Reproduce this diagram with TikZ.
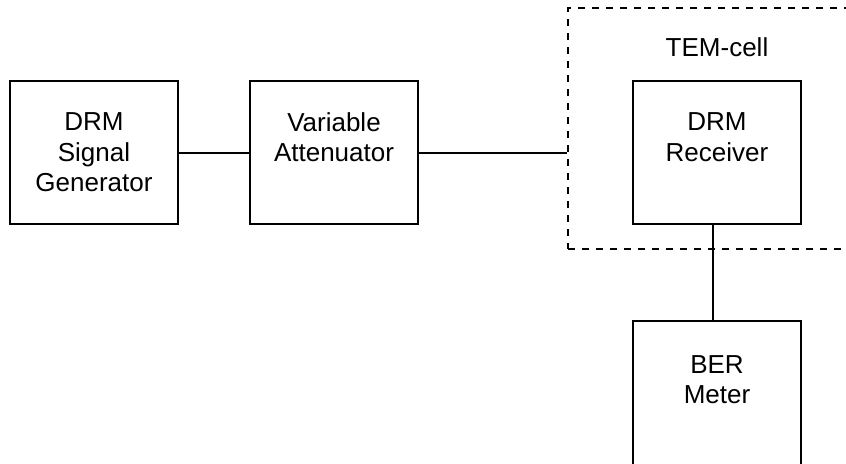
\documentclass[tikz,border=0pt]{standalone}
\usepackage{fontspec}
\setmainfont{Liberation Sans}
\usetikzlibrary{positioning,fit}

\tikzset{
  blk/.style={draw, line width=1pt, minimum width=84pt, minimum height=71.5pt,
    align=center, inner sep=0pt, font=\fontsize{13}{15.25}\selectfont},
  cellbox/.style={draw, line width=1pt, dash pattern=on 3.5pt off 3.5pt, inner sep=0pt},
  wire/.style={line width=1pt}
}

\begin{document}
\begin{tikzpicture}[x=0.5pt, y=-0.5pt]
\useasboundingbox (0,0) rectangle (846,463);
\node[blk] (gen) at (94,152.5) {DRM\\Signal\\Generator};
\node[blk, right=35pt of gen] (att) {Variable\\Attenuator\\\mbox{}};
\node[blk, right=106.5pt of att] (rx) {DRM\\Receiver\\\mbox{}};
\node[blk, below=47.5pt of rx, minimum height=74pt] (ber) {BER\\Meter\\\mbox{}};
% TEM-cell around the receiver
\coordinate (cellnw) at ([xshift=-32pt, yshift=36pt]rx.north west);
\coordinate (cellse) at ([xshift=30pt, yshift=-12pt]rx.south east);
\node[cellbox, fit=(cellnw)(cellse)] (cell) {};
\node[anchor=base, font=\fontsize{13}{15.25}\selectfont] (temlbl) at ([yshift=12pt]rx.north) {TEM-cell};
\draw[wire] (gen) -- (att);
\draw[wire] (att) -- (att -| cell.west);
\draw[wire] ([xshift=-2pt]rx.south) -- ([xshift=-2pt]ber.north);
\end{tikzpicture}
\end{document}
